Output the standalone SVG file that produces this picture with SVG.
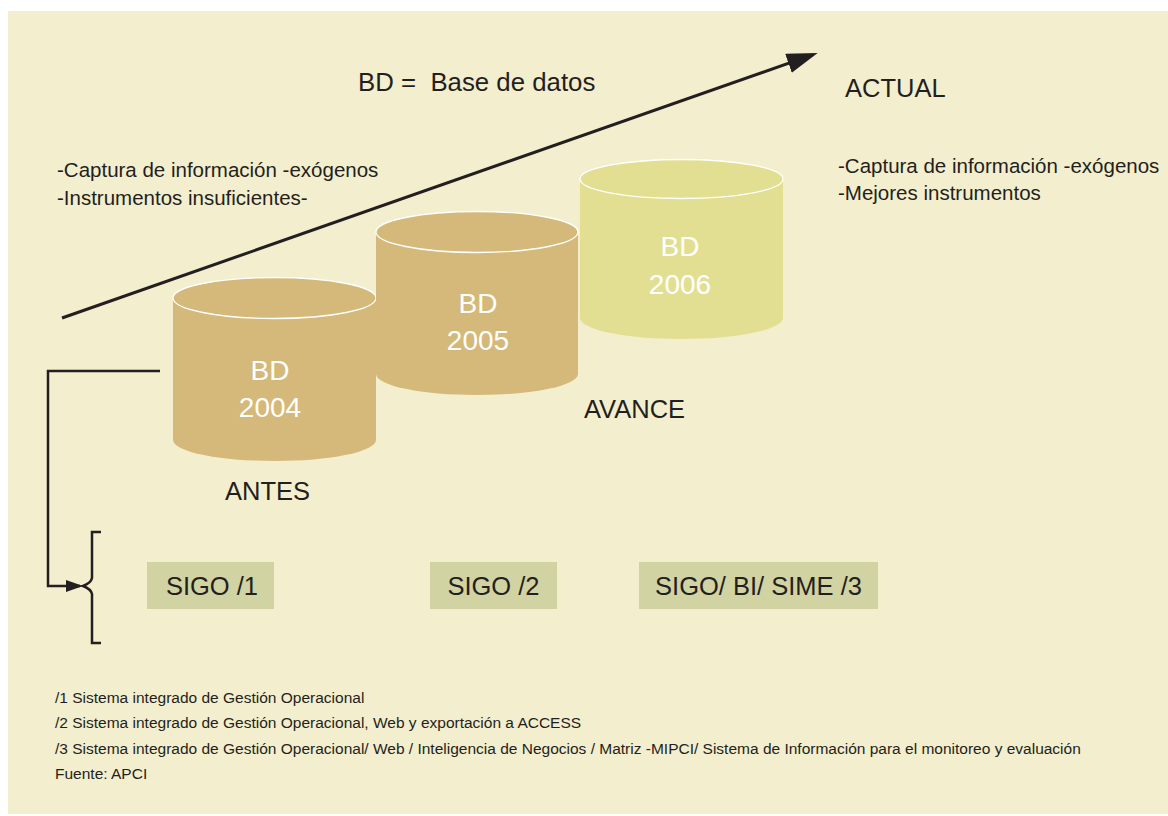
<svg xmlns="http://www.w3.org/2000/svg" width="1168" height="816" viewBox="0 0 1168 816">
<style>
.t{font-family:"Liberation Sans",Arial,sans-serif;fill:#231F20}
.cyl{fill:#D4B97A}
.cyl3{fill:#E3DF92}
.top{stroke:#FFFFFF;stroke-width:1.3}
.w{font-family:"Liberation Sans",Arial,sans-serif;fill:#FFFFFF;font-size:28px;text-anchor:middle}
.box{fill:#D2D3A2}
.bt{font-family:"Liberation Sans",Arial,sans-serif;fill:#231F20;font-size:25.5px;text-anchor:middle}
.ln{fill:none;stroke:#231F20}
.fn{font-family:"Liberation Sans",Arial,sans-serif;fill:#231F20;font-size:15.5px}
</style>
<defs>
<marker id="bigArrow" markerUnits="userSpaceOnUse" markerWidth="32" markerHeight="22" refX="26" refY="10" orient="auto" viewBox="0 0 32 22">
<path d="M0,0 L31,10 L0,20 z" fill="#231F20"/>
</marker>
<marker id="smallArrow" markerUnits="userSpaceOnUse" markerWidth="18" markerHeight="14" refX="14" refY="6" orient="auto" viewBox="0 0 18 14">
<path d="M0,0 L17,6 L0,12 z" fill="#231F20"/>
</marker>
</defs>
<rect x="0" y="0" width="1168" height="816" fill="#FFFFFF"/>
<rect x="8" y="11" width="1160" height="803" fill="#F3EECD"/>

<g id="connectors">
<line class="ln" x1="62" y1="318" x2="813" y2="54.7" stroke-width="3" marker-end="url(#bigArrow)"/>
<path class="ln" d="M160,371 H48 V586 H80" stroke-width="2.5" marker-end="url(#smallArrow)"/>
<path class="ln" d="M101,532 H92 V578 Q91,583 83,586 Q91,589 92,594 V643 H101" stroke-width="2.5"/>
</g>

<g id="legend-bd">
<text class="t" x="358" y="91" font-size="25.8" xml:space="preserve">BD =  Base de datos</text>
</g>

<g id="notes-left">
<text class="t" x="57" y="177" font-size="20.5">-Captura de información -exógenos</text>
<text class="t" x="57" y="205" font-size="20.5">-Instrumentos insuficientes-</text>
</g>

<g id="label-actual">
<text class="t" x="845" y="97" font-size="25.5">ACTUAL</text>
</g>

<g id="notes-right">
<text class="t" x="838" y="173" font-size="20.5">-Captura de información -exógenos</text>
<text class="t" x="838" y="200" font-size="20.5">-Mejores instrumentos</text>
</g>

<g id="cyl-2004">
<path class="cyl" d="M173,298 V440 A101.5,21 0 0 0 376,440 V298 z"/>
<ellipse class="cyl top" cx="274.5" cy="298" rx="101.5" ry="20.5"/>
<text class="w" x="270" y="380">BD</text>
<text class="w" x="270" y="417">2004</text>
</g>

<g id="cyl-2005">
<path class="cyl" d="M376,232 V374 A101,21 0 0 0 578,374 V232 z"/>
<ellipse class="cyl top" cx="477" cy="232" rx="101" ry="20.5"/>
<text class="w" x="478" y="313">BD</text>
<text class="w" x="478" y="350">2005</text>
</g>

<g id="cyl-2006">
<path class="cyl3" d="M580,179 V318 A101.5,21 0 0 0 783,318 V179 z"/>
<ellipse class="cyl3 top" cx="681.5" cy="179" rx="101.5" ry="19.5"/>
<text class="w" x="680" y="256">BD</text>
<text class="w" x="680" y="294">2006</text>
</g>

<g id="label-antes">
<text class="t" x="225" y="500" font-size="25.5">ANTES</text>
</g>
<g id="label-avance">
<text class="t" x="584" y="418" font-size="25.5">AVANCE</text>
</g>

<g id="sigo1">
<rect class="box" x="147" y="562" width="127" height="47"/>
<text class="bt" x="212" y="595">SIGO /1</text>
</g>
<g id="sigo2">
<rect class="box" x="430" y="562" width="127" height="47"/>
<text class="bt" x="493.5" y="595">SIGO /2</text>
</g>
<g id="sigo3">
<rect class="box" x="639" y="562" width="239" height="47"/>
<text class="bt" x="758.5" y="595">SIGO/ BI/ SIME /3</text>
</g>

<g id="footnotes">
<text class="fn" x="55" y="703">/1 Sistema integrado de Gestión Operacional</text>
<text class="fn" x="55" y="728">/2 Sistema integrado de Gestión Operacional, Web y exportación a ACCESS</text>
<text class="fn" x="55" y="754">/3 Sistema integrado de Gestión Operacional/ Web / Inteligencia de Negocios / Matriz -MIPCI/ Sistema de Información para el monitoreo y evaluación</text>
<text class="fn" x="55" y="779">Fuente: APCI</text>
</g>
</svg>
